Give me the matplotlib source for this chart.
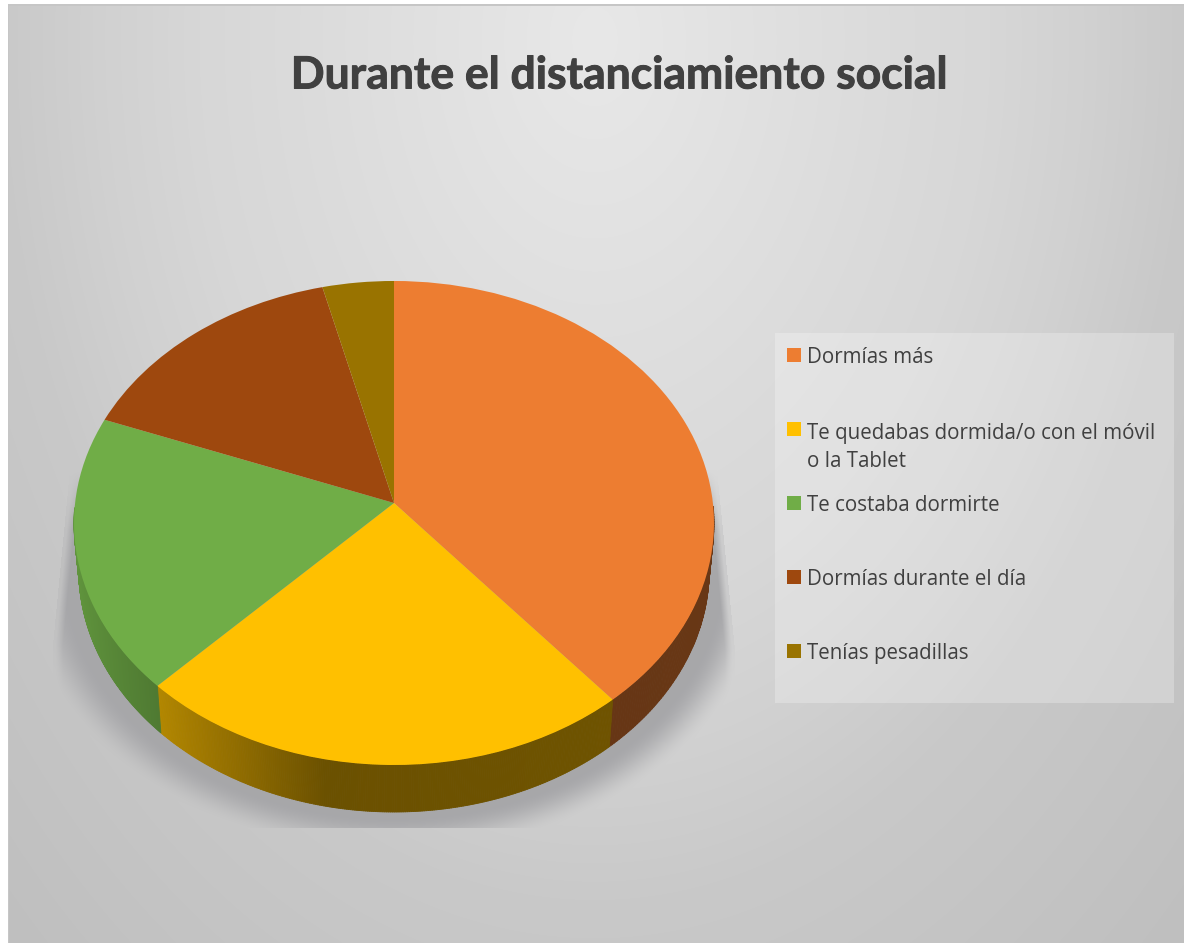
import numpy as np
import matplotlib
matplotlib.use("Agg")
import matplotlib.pyplot as plt
import matplotlib.patheffects as pe
from matplotlib.collections import PolyCollection
from matplotlib.patches import Rectangle
from matplotlib.colors import to_rgb
from matplotlib.transforms import Transform

# Chart content
title = "Durante el distanciamiento social"
categories = ["Dormías más",
              "Te quedabas dormida/o con el móvil\no la Tablet",
              "Te costaba dormirte",
              "Dormías durante el día",
              "Tenías pesadillas"]
shares = [38.9, 23.4, 18.5, 15.3, 3.9]
colors = ["#ED7D31", "#FFC000", "#70AD47", "#9E480E", "#997300"]
legend_rows = [355, 429, 503, 577, 651]

W, H = 1184, 943
fig = plt.figure(figsize=(W / 100, H / 100), dpi=100)

# Full-figure layer addressed in pixels: backdrop, drop shadow, legend, title
bg = fig.add_axes([0, 0, 1, 1])
bg.set_xlim(0, W)
bg.set_ylim(H, 0)
bg.axis("off")

# Radial backdrop, brightest near the top centre
yy, xx = np.mgrid[0:H, 0:W] + 0.5
spread = np.hypot((xx - 595) / 590, (yy - 40) / 860)
level = 232 - np.interp(spread, [0, 0.5, 0.67, 0.83, 1.0, 1.4, 1.5],
                        [0, 13, 17, 23, 31, 40, 42])
img = np.repeat((level / 255)[..., None], 3, axis=2)

# Soft shadow under the disc, cut off along the bottom and sides
cx, cy, rx, ry = 394, 570, 320, 242
radial = np.hypot((xx - cx) / rx, (yy - cy) / ry)
outside = (radial - 1) * 280
t = np.clip((outside - 6) / 42, 0, 1)
alpha = 1 - t * t * (3 - 2 * t)
left_edge = 70 - np.clip(yy - 470, 0, 175) * 17 / 175
right_edge = 717 + np.clip(yy - 470, 0, 180) * 18 / 180
alpha *= np.clip((xx - left_edge) / 10, 0.25, 1) * np.clip((right_edge - xx) / 10, 0.25, 1)
alpha *= np.clip((yy - 470) / 60, 0, 1)
alpha[(yy > 828) | (xx < left_edge) | (xx > right_edge)] = 0
shade = np.array([0.655, 0.655, 0.665])
img = img * (1 - alpha[..., None]) + shade * alpha[..., None]

# Slide margin and its faint border
img[(xx < 8) | (yy < 4)] = 1.0
img[((xx >= 8) & (xx < 9) & (yy >= 4)) | ((yy >= 4) & (yy < 6) & (xx >= 8))] = 0.78
bg.imshow(img, extent=(0, W, H, 0), aspect="auto", interpolation="nearest", zorder=0)

# Legend panel
bg.add_patch(Rectangle((775, 333), 399, 370, facecolor="white", alpha=0.25,
                       edgecolor="none", zorder=1))
for name, col, row in zip(categories, colors, legend_rows):
    bg.add_patch(Rectangle((787, row - 7), 14, 14, facecolor=col, edgecolor="none", zorder=2))
    extra_lines = name.count("\n")
    bg.text(807, row + 8 + 30 * extra_lines, name, fontsize=14.8, family="Open Sans",
            color="#404040", va="baseline", ha="left", linespacing=1.44, zorder=2)

bg.text(619.5, 88.5, title, fontsize=32, family="Lato", weight="bold",
        color="#404040", ha="center", va="baseline", zorder=2,
        path_effects=[pe.withStroke(linewidth=0.7, foreground="#404040")])


class TiltedDisc(Transform):
    """Projects the unit circle onto the tilted disc, near edge enlarged."""
    input_dims = output_dims = 2

    def __init__(self, apex_x, apex_y, sx, sy, k, dx=0.0, dy=0.0, shrink=1.0):
        super().__init__()
        self.p = (apex_x, apex_y, sx, sy, k, dx, dy, shrink)

    def transform_non_affine(self, values):
        apex_x, apex_y, sx, sy, k, dx, dy, shrink = self.p
        values = np.asarray(values, float)
        w = 1 + k * values[:, 1]
        return np.column_stack((apex_x + shrink * sx * values[:, 0] / w + dx,
                                apex_y + sy * values[:, 1] / w + dy))


# Pie drawn in a pixel-scaled axes; wedges pass through the tilt projection
ax = fig.add_axes([0, 0, 1, 1])
ax.patch.set_alpha(0)
wedges, _ = ax.pie(shares, colors=colors, startangle=90, counterclock=False, radius=1,
                   wedgeprops=dict(linewidth=0, zorder=3))
ax.set_aspect("auto")
ax.set_xlim(0, W)
ax.set_ylim(0, H)
top_face = TiltedDisc(394, H - 503, 318.9, 240.35, 0.0826)
for w in wedges:
    w.set_transform(top_face + ax.transData)

# Rim of the disc: thin strips following each slice, darkened with horizontal position
rim_low = TiltedDisc(394, H - 503, 318.9, 240.35, 0.0826, dy=-47, shrink=0.985)
edges = 90 - np.cumsum([0] + shares) * 360 / sum(shares)
rim_x = [-1.0, -0.73, -0.2, 1.0]
rim_f = [0.86, 0.72, 0.42, 0.44]
for i, col in enumerate(colors):
    th = np.radians(np.linspace(edges[i], edges[i + 1], 240))
    base = np.array(to_rgb(col))
    circle = np.column_stack((np.cos(th), np.sin(th)))
    upper = top_face.transform(circle)
    lower = rim_low.transform(circle)
    strips, tints = [], []
    for k in range(len(th) - 1):
        if circle[k, 1] > -0.02 and circle[k + 1, 1] > -0.02:
            continue
        strips.append([upper[k], upper[k + 1], lower[k + 1], lower[k]])
        tints.append(base * np.interp(circle[k:k + 2, 0].mean(), rim_x, rim_f))
    if strips:
        ax.add_collection(PolyCollection(strips, facecolors=tints, edgecolors=tints,
                                         linewidths=0.6, zorder=2))

fig.savefig("out.png", dpi=100)
